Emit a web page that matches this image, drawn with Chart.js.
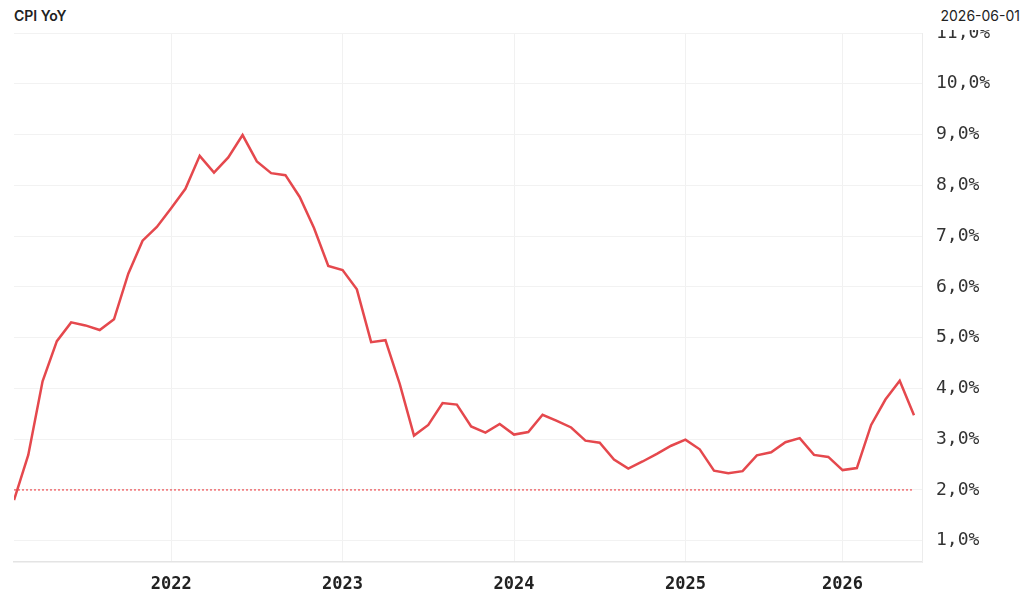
<!DOCTYPE html>
<html>
<head>
<meta charset="utf-8">
<script src="https://cdn.jsdelivr.net/npm/chart.js@4.4.1/dist/chart.umd.min.js"></script>
<style>
  html, body { margin: 0; padding: 0; background: #fff; }
  #wrap { position: relative; width: 1024px; height: 605px; }
  #head { position: absolute; left: 0; top: 0; width: 1024px; height: 30px; background: #fff; z-index: 2; }
  #title { position: absolute; left: 14px; top: 7px; font: 600 14px Inter, "Noto Sans", sans-serif; color: #222; }
  #date { position: absolute; right: 4px; top: 7px; font: 400 14px Inter, "Noto Sans", sans-serif; color: #222; }
  canvas { position: absolute; left: 0; top: 0; }
</style>
</head>
<body>
<div id="wrap">
  <div id="head"><span id="title">CPI YoY</span><span id="date">2026-06-01</span></div>
  <canvas id="grafica" width="1024" height="605"></canvas>
</div>
<script>
// monthly points, Oct 2025 has no print
var meses = [
  "2021-02","2021-03","2021-04","2021-05","2021-06","2021-07","2021-08","2021-09","2021-10","2021-11","2021-12",
  "2022-01","2022-02","2022-03","2022-04","2022-05","2022-06","2022-07","2022-08","2022-09","2022-10","2022-11","2022-12",
  "2023-01","2023-02","2023-03","2023-04","2023-05","2023-06","2023-07","2023-08","2023-09","2023-10","2023-11","2023-12",
  "2024-01","2024-02","2024-03","2024-04","2024-05","2024-06","2024-07","2024-08","2024-09","2024-10","2024-11","2024-12",
  "2025-01","2025-02","2025-03","2025-04","2025-05","2025-06","2025-07","2025-08","2025-09","2025-11","2025-12",
  "2026-01","2026-02","2026-03","2026-04","2026-05","2026-06"
];
var cpiYoY = [
  1.80, 2.69, 4.14, 4.93, 5.30, 5.24, 5.15, 5.36, 6.26, 6.91, 7.18,
  7.55, 7.93, 8.58, 8.25, 8.55, 8.99, 8.47, 8.24, 8.20, 7.77, 7.16, 6.41,
  6.33, 5.95, 4.91, 4.95, 4.09, 3.07, 3.28, 3.71, 3.68, 3.25, 3.13, 3.30,
  3.09, 3.14, 3.48, 3.36, 3.23, 2.97, 2.93, 2.60, 2.42, 2.56, 2.71, 2.87,
  2.99, 2.80, 2.38, 2.33, 2.37, 2.68, 2.74, 2.94, 3.02, 2.69, 2.65,
  2.39, 2.43, 3.28, 3.78, 4.15, 3.47
];
var objetivo = 2.0;
var ticksY = [1, 2, 3, 4, 5, 6, 7, 8, 9, 10, 11];

var rojo = "#e5484d";
var puntos = cpiYoY.map(function (v, i) { return { x: i, y: v }; });
var lineaObjetivo = [{ x: 0, y: objetivo }, { x: meses.length - 1, y: objetivo }];
var ticksX = [];
for (var i in meses) {
  if (meses[i].slice(5) === "01") ticksX.push(Number(i));
}

var ctx = document.getElementById("grafica").getContext("2d");
var grafica = new Chart(ctx, {
  type: "line",
  data: {
    datasets: [
      {
        label: "CPI YoY",
        data: puntos,
        borderColor: rojo,
        borderWidth: 2.5,
        pointRadius: 0,
        tension: 0
      },
      {
        label: "Objetivo",
        data: lineaObjetivo,
        borderColor: "#ef5a5e",
        borderWidth: 1.3,
        borderDash: [2, 2],
        pointRadius: 0
      }
    ]
  },
  options: {
    responsive: false,
    animation: false,
    layout: { padding: { left: 14, top: 33, right: 0, bottom: 0 } },
    plugins: { legend: { display: false }, tooltip: { enabled: false } },
    scales: {
      x: {
        type: "linear",
        min: 0,
        max: 63.56,
        afterBuildTicks: function (scale) {
          scale.ticks = ticksX.map(function (v) { return { value: v }; });
        },
        afterFit: function (scale) { scale.height = 43; },
        ticks: {
          padding: 12,
          maxRotation: 0,
          autoSkip: false,
          color: "#222",
          font: { family: "'DejaVu Sans Mono', monospace", size: 17, weight: "bold" },
          callback: function (v) { return meses[v] ? meses[v].slice(0, 4) : ""; }
        },
        grid: { color: "#f1f1f1", drawTicks: false },
        border: { color: "#e4e4e4", width: 1.5 }
      },
      y: {
        position: "right",
        min: 0.58,
        max: 11,
        afterBuildTicks: function (scale) {
          scale.ticks = ticksY.map(function (v) { return { value: v }; });
        },
        afterFit: function (scale) { scale.width = 102; },
        ticks: {
          padding: 14,
          color: "#333",
          font: { family: "'DejaVu Sans Mono', monospace", size: 18 },
          callback: function (v) { return v.toFixed(1).replace(".", ",") + "%"; }
        },
        grid: { color: "#f2f2f2", drawTicks: false },
        border: { color: "#ececec", width: 1 }
      }
    }
  }
});
</script>
</body>
</html>
